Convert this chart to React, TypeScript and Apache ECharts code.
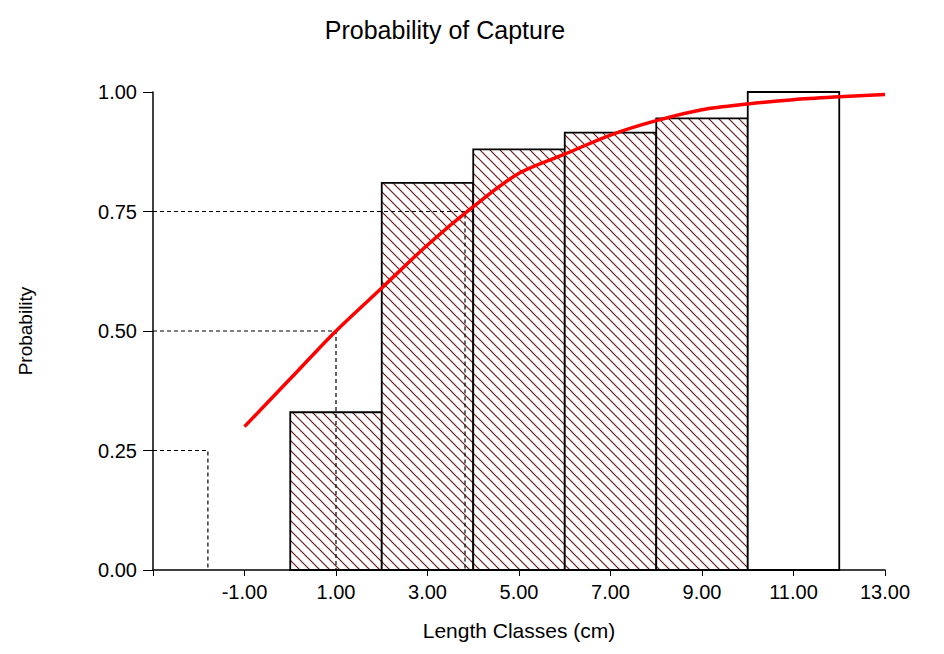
import { useEffect, useRef } from 'react';
import * as echarts from 'echarts';

// length class bins [from, to] and observed capture probability
const binStarts = [0, 2, 4, 6, 8, 10];
const binEnds = [2, 4, 6, 8, 10, 12];
const binProb = [0.33, 0.81, 0.88, 0.915, 0.945, 1.0];
const binHatched = [true, true, true, true, true, false];

// fitted selection curve
const curveX = [-1, 0, 1, 2, 3, 4, 5, 6, 7, 8, 9, 10, 11, 12, 13];
const curveY = [0.3, 0.4, 0.5, 0.59, 0.68, 0.76, 0.83, 0.87, 0.91, 0.94, 0.963, 0.975, 0.984, 0.99, 0.995];

// L25, L50, L75 guides
const guideP = [0.25, 0.5, 0.75];
const guideL = [-1.8, 1.0, 3.82];

function makeHatch() {
  const c = document.createElement('canvas');
  c.width = 10;
  c.height = 10;
  const g = c.getContext('2d')!;
  g.fillStyle = '#fff';
  g.fillRect(0, 0, 10, 10);
  g.strokeStyle = '#6a1c1c';
  g.lineWidth = 1.2;
  g.beginPath();
  g.moveTo(-1, -1);
  g.lineTo(11, 11);
  g.moveTo(-1, 9);
  g.lineTo(1, 11);
  g.moveTo(9, -1);
  g.lineTo(11, 1);
  g.stroke();
  return c;
}

export default function App() {
  const chartRef = useRef<HTMLDivElement>(null);

  useEffect(() => {
    if (!chartRef.current) return;
    const chart = echarts.init(chartRef.current, null, { renderer: 'svg' });
    const hatch = makeHatch();
    const font = 'Liberation Sans';

    const guides: any[] = guideP.map((p, i) => ({
      type: 'line',
      data: [[-3, p], [guideL[i], p], [guideL[i], 0]],
      symbol: 'none',
      lineStyle: { color: '#000', width: 1.2, type: [4, 3] },
      z: 4,
    }));

    chart.setOption({
      animation: false,
      textStyle: { fontFamily: font },
      title: {
        text: 'Probability of Capture',
        left: 432,
        textAlign: 'center',
        top: 4,
        textStyle: { fontSize: 25, fontWeight: 'normal', color: '#000', fontFamily: font },
      },
      grid: { left: 145, right: 51, top: 84, bottom: 62 },
      xAxis: {
        type: 'value',
        min: -3,
        max: 13,
        interval: 2,
        name: 'Length Classes (cm)',
        nameLocation: 'middle',
        nameGap: 50,
        nameTextStyle: { fontSize: 21, color: '#000' },
        splitLine: { show: false },
        axisLine: { lineStyle: { color: '#000', width: 1.5 } },
        axisTick: { show: true, length: 6, lineStyle: { color: '#000' } },
        axisLabel: {
          fontSize: 20,
          color: '#000',
          margin: 12,
          formatter: (v: number) => (v === -3 ? '' : v.toFixed(2)),
        },
      },
      yAxis: {
        type: 'value',
        min: 0,
        max: 1,
        interval: 0.25,
        name: 'Probability',
        nameLocation: 'middle',
        nameGap: 118,
        nameRotate: 90,
        nameTextStyle: { fontSize: 19, color: '#000' },
        splitLine: { show: false },
        axisLine: { show: true, onZero: false, lineStyle: { color: '#000', width: 1.5 } },
        axisTick: { show: true, length: 10, lineStyle: { color: '#000' } },
        axisLabel: {
          fontSize: 20,
          color: '#000',
          margin: 16,
          formatter: (v: number) => v.toFixed(2),
        },
      },
      series: [
        {
          type: 'custom',
          z: 2,
          data: binStarts.map((s, i) => [s, binEnds[i], binProb[i], binHatched[i] ? 1 : 0]),
          renderItem: (_p: any, api: any) => {
            const a = api.coord([api.value(0), api.value(2)]);
            const b = api.coord([api.value(1), 0]);
            return {
              type: 'rect',
              shape: { x: a[0], y: a[1], width: b[0] - a[0], height: b[1] - a[1] },
              style: {
                fill: api.value(3) ? { image: hatch, repeat: 'repeat' } : '#fff',
                stroke: '#000',
                lineWidth: 1.8,
              },
            };
          },
        },
        ...guides,
        {
          type: 'line',
          data: curveX.map((x, i) => [x, curveY[i]]),
          smooth: 0.3,
          symbol: 'none',
          lineStyle: { color: '#ff0000', width: 3.5 },
          z: 5,
        },
      ],
    });

    return () => chart.dispose();
  }, []);

  return <div ref={chartRef} style={{ width: 928, height: 638 }} />;
}
